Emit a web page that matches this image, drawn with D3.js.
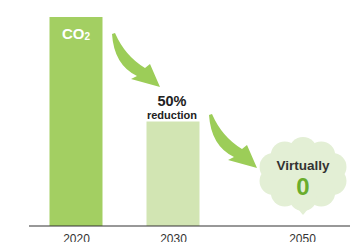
<!DOCTYPE html>
<meta charset="utf-8">
<style>
body { margin: 0; background: #fff; }
text { font-family: "Liberation Sans", Arial, sans-serif; }
</style>
<script src="https://cdn.jsdelivr.net/npm/d3@7"></script>
<body>
<script>

var width = 350,
    height = 242;

// data
var years = ["2020", "2030", "2050"];
var values = [100, 50, 0];
var barColors = ["#a3cf62", "#d2e5b3", "#e3efd5"];

var svg = d3.select("body")
  .append("svg")
    .attr("width", width)
    .attr("height", height);

// uneven spacing between years, so piecewise linear
var x = d3.scaleLinear()
  .domain([2020, 2030, 2050])
  .range([76, 173, 302]);

var y = d3.scaleLinear()
  .domain([0, 100])
  .range([226, 17]);

var barW = 53;

// bars (2050 is virtually zero, shown as a cloud instead)
svg.selectAll(".bar")
  .data(years.slice(0, 2))
  .enter()
  .append("rect")
    .attr("class", "bar")
    .attr("x", function (d) { return x(+d) - barW / 2; })
    .attr("y", function (d, i) { return y(values[i]); })
    .attr("width", barW)
    .attr("height", function (d, i) { return y(0) - y(values[i]); })
    .style("fill", function (d, i) { return barColors[i]; });

// axis
var axis = svg.append("g")
  .attr("transform", "translate(0," + y(0) + ")")
  .call(d3.axisBottom(x).tickValues(years.map(Number)).tickFormat(d3.format("d")).tickSize(0).tickPadding(8));
axis.select(".domain").remove();
axis.append("line")
  .attr("x1", 29).attr("x2", width)
  .attr("stroke", "#333").attr("stroke-width", 1.2);
axis.selectAll("text")
  .attr("font-size", 12)
  .attr("font-family", "Liberation Sans, Arial, sans-serif")
  .attr("fill", "#333");

// CO2 label
var co2 = svg.append("text")
  .attr("x", x(2020))
  .attr("y", 39)
  .attr("text-anchor", "middle")
  .attr("fill", "#fff")
  .attr("font-weight", "bold")
  .attr("font-size", 15);
co2.append("tspan").text("CO");
co2.append("tspan").attr("font-size", 10).attr("dy", 1).text("2");

// curved arrows
function arrow(tx, ty) {
  var p = d3.path();
  p.moveTo(tx, ty);
  p.quadraticCurveTo(tx + 2, ty + 31, tx + 25, ty + 42);
  p.lineTo(tx + 19, ty + 45);
  p.lineTo(tx + 48, ty + 53);
  p.lineTo(tx + 38, ty + 30);
  p.lineTo(tx + 33, ty + 34);
  p.quadraticCurveTo(tx + 13, ty + 22, tx + 3, ty - 1);
  p.closePath();
  return p.toString();
}
svg.append("path").attr("d", arrow(112, 34)).attr("fill", "#9ccd58");
svg.append("path").attr("d", arrow(209, 115)).attr("fill", "#9ccd58");

// 50% reduction
svg.append("text")
  .attr("x", x(2030) - 1)
  .attr("y", 106)
  .attr("text-anchor", "middle")
  .attr("font-weight", "bold")
  .attr("font-size", 14.5)
  .attr("fill", "#222")
  .text("50%");
svg.append("text")
  .attr("x", x(2030) - 1)
  .attr("y", 119)
  .attr("text-anchor", "middle")
  .attr("font-weight", "bold")
  .attr("font-size", 11)
  .style("font-family", "'Liberation Sans Narrow', 'Liberation Sans', sans-serif")
  .attr("fill", "#222")
  .text("reduction");

// cloud for 2050
var cx = x(2050) + 1, cy = 174;
var cloud = svg.append("g").attr("fill", barColors[2]);
cloud.append("ellipse").attr("cx", cx).attr("cy", cy).attr("rx", 35).attr("ry", 29);
d3.range(10).forEach(function (i) {
  var a = i / 10 * 2 * Math.PI - Math.PI / 2;
  cloud.append("circle")
    .attr("cx", cx + 31 * Math.cos(a))
    .attr("cy", cy + 23 * Math.sin(a))
    .attr("r", 14);
});
cloud.append("path")
  .attr("d", "M" + (cx - 5) + "," + (cy + 35) + "L" + cx + "," + (cy + 41) + "L" + (cx + 5) + "," + (cy + 35) + "Z");

svg.append("text")
  .attr("x", cx)
  .attr("y", 170)
  .attr("text-anchor", "middle")
  .attr("font-weight", "bold")
  .attr("font-size", 13.5)
  .attr("fill", "#333")
  .text("Virtually");
svg.append("text")
  .attr("x", cx)
  .attr("y", 195)
  .attr("text-anchor", "middle")
  .attr("font-weight", "bold")
  .attr("font-size", 24)
  .attr("fill", "#6aad2c")
  .text(values[2]);

</script>
</body>
